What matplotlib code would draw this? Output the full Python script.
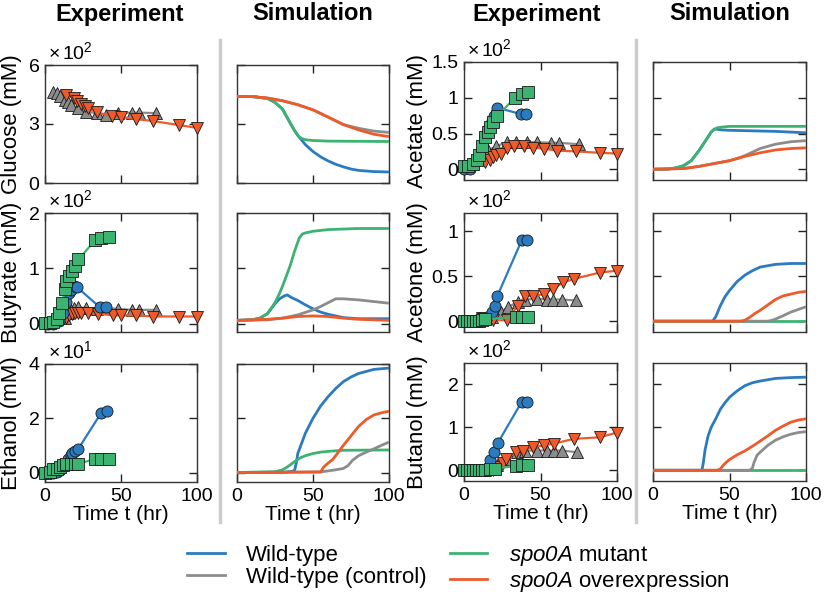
"""Experiment vs simulation panels for fermentation products."""

import matplotlib

matplotlib.use("Agg")
from matplotlib import pyplot as plt  # noqa: E402
from matplotlib.lines import Line2D  # noqa: E402

plt.rcParams["font.family"] = ["Liberation Sans", "DejaVu Sans"]
plt.rcParams["mathtext.fontset"] = "custom"
# math text is only used for the italic gene name and the multipliers
plt.rcParams["mathtext.rm"] = "Liberation Sans:italic"
plt.rcParams["mathtext.it"] = "Liberation Sans:italic"

BLUE = "#2a7bbf"
GREEN = "#3cb371"
GRAY = "#8c8c8c"
ORANGE = "#ee5a2a"

# ---- experiment data (values in units of the panel multiplier) ----
glc_gray_t = [5.5, 7.7, 9.8, 13, 15, 17, 22, 27, 34, 40, 48, 57, 62, 73]
glc_gray_y = [4.65, 4.56, 4.4, 4.22, 4.14, 3.97, 3.8, 3.63, 3.55, 3.46, 3.55, 3.58, 3.58, 3.55]
glc_orange_t = [14, 19, 21, 24, 26, 28, 34, 44, 50, 60, 71, 88, 100]
glc_orange_y = [4.5, 4.3, 4.15, 4.0, 3.9, 3.8, 3.6, 3.4, 3.35, 3.25, 3.15, 2.95, 2.8]

but_green_t = [0, 3, 5.5, 8, 9.5, 11.5, 13, 14, 16, 17.5, 20, 22, 33, 37, 42]
but_green_y = [0.01, 0.01, 0.03, 0.09, 0.19, 0.37, 0.62, 0.77, 0.86, 0.96, 1.05, 1.16, 1.51, 1.54, 1.56]
but_blue_t = [2, 5, 9, 12, 14, 16, 17, 19, 21, 36, 40]
but_blue_y = [0, 0, 0.05, 0.2, 0.4, 0.55, 0.6, 0.68, 0.66, 0.3, 0.3]
but_gray_t = [13, 15, 17, 19, 22, 27, 34, 40, 48, 57, 62, 73]
but_gray_y = [0.1, 0.2, 0.25, 0.28, 0.3, 0.28, 0.27, 0.28, 0.27, 0.25, 0.25, 0.25]
but_orange_t = [14, 16, 18, 20, 22, 24, 28, 35, 45, 50, 60, 71, 88, 100]
but_orange_y = [0.1, 0.15, 0.18, 0.2, 0.2, 0.2, 0.2, 0.18, 0.15, 0.15, 0.15, 0.13, 0.13, 0.13]

eth_blue_t = [0, 3, 5, 8, 10, 13, 15, 17, 18, 20, 22, 37, 41]
eth_blue_y = [0, 0, 0, 0.02, 0.1, 0.35, 0.5, 0.65, 0.72, 0.8, 0.88, 2.2, 2.28]
eth_green_t = [0, 3, 5.5, 8, 10, 12, 14, 17, 20, 22, 33, 37, 42]
eth_green_y = [0, 0.03, 0.13, 0.13, 0.2, 0.28, 0.3, 0.3, 0.3, 0.32, 0.5, 0.5, 0.5]

ace_blue_t = [0, 4, 9.4, 11.6, 13.8, 16, 18.1, 19.9, 21.8, 37.5, 40.8]
ace_blue_y = [0.01, 0.01, 0.17, 0.3, 0.45, 0.57, 0.68, 0.75, 0.86, 0.77, 0.77]
ace_green_t = [0, 2.8, 6.1, 8.3, 10, 11.6, 13.8, 15.5, 17, 19.2, 21.4, 33.4, 37.8, 42.1]
ace_green_y = [0.05, 0.05, 0.08, 0.13, 0.2, 0.32, 0.45, 0.52, 0.59, 0.66, 0.74, 1.0, 1.05, 1.08]
ace_gray_t = [12, 16, 21, 28, 34, 41, 48, 57, 62, 75]
ace_gray_y = [0.2, 0.27, 0.32, 0.38, 0.38, 0.38, 0.38, 0.37, 0.37, 0.35]
ace_orange_t = [14, 17, 19, 21, 24, 28, 33, 39, 45, 52, 61, 73, 89, 100]
ace_orange_y = [0.1, 0.13, 0.17, 0.2, 0.22, 0.3, 0.32, 0.32, 0.3, 0.29, 0.26, 0.25, 0.23, 0.22]

acn_blue_t = [0, 2.8, 6.1, 10.5, 14.8, 18.1, 20.3, 21.8, 37.8, 41]
acn_blue_y = [0, 0, 0, 0.03, 0.05, 0.1, 0.17, 0.28, 0.9, 0.9]
acn_green_t = [0, 2, 4, 6, 8, 10, 12, 14, 34, 38, 42]
acn_green_y = [0, 0, 0, 0, 0, 0, 0.01, 0.02, 0.05, 0.05, 0.05]
acn_gray_t = [14, 18, 24, 29, 35, 40, 48, 54, 58, 64, 73]
acn_gray_y = [0.04, 0.05, 0.1, 0.16, 0.21, 0.24, 0.25, 0.24, 0.24, 0.24, 0.23]
acn_orange_t = [12, 14, 16, 19, 28, 35, 40, 45, 52, 58, 65, 72, 89, 100]
acn_orange_y = [0.03, 0.02, 0.01, 0.01, 0.01, 0.17, 0.28, 0.28, 0.3, 0.36, 0.43, 0.47, 0.54, 0.56]

btl_blue_t = [0, 4, 10.5, 14.4, 17, 19.9, 22, 37.8, 41]
btl_blue_y = [0, 0, 0, 0.04, 0.23, 0.42, 0.63, 1.6, 1.6]
btl_green_t = [0, 2, 4, 6, 8, 10, 12, 14, 17, 20, 34, 38, 42]
btl_green_y = [0, 0, 0, 0, 0, 0, 0, 0, 0.02, 0.04, 0.1, 0.12, 0.12]
btl_gray_t = [12, 16, 21.6, 28, 34.6, 40, 48, 54, 59, 64, 74]
btl_gray_y = [0, 0.04, 0.12, 0.27, 0.42, 0.46, 0.46, 0.46, 0.46, 0.46, 0.42]
btl_orange_t = [12, 14.4, 16.6, 19, 22, 25.3, 27.5, 34, 38.6, 45, 52, 58.5, 71.6, 89, 100]
btl_orange_y = [0, 0, 0, 0, 0.08, 0.17, 0.27, 0.42, 0.46, 0.54, 0.58, 0.62, 0.73, 0.77, 0.88]

# ---- simulation curves ----
s_glc_blue_t = [0, 10, 20, 25, 30, 35, 38, 40, 45, 50, 55, 60, 65, 70, 75, 80, 90, 100]
s_glc_blue_y = [4.4, 4.4, 4.3, 4.1, 3.75, 3.05, 2.65, 2.42, 1.95, 1.6, 1.33, 1.12, 0.95, 0.82, 0.71, 0.64, 0.58, 0.56]
s_glc_green_t = [0, 10, 20, 25, 30, 35, 38, 40, 42, 45, 50, 60, 100]
s_glc_green_y = [4.4, 4.4, 4.3, 4.1, 3.75, 3.05, 2.65, 2.42, 2.28, 2.2, 2.16, 2.13, 2.11]
s_glc_gray_t = [0, 10, 20, 30, 40, 50, 60, 70, 80, 90, 100]
s_glc_gray_y = [4.4, 4.39, 4.32, 4.18, 3.98, 3.72, 3.35, 2.97, 2.78, 2.64, 2.57]
s_glc_orange_t = [0, 10, 20, 30, 40, 50, 60, 70, 80, 90, 100]
s_glc_orange_y = [4.4, 4.39, 4.32, 4.18, 3.98, 3.72, 3.35, 2.97, 2.7, 2.48, 2.36]

s_but_blue_t = [0, 10, 15, 20, 25, 28, 31, 33, 36, 40, 45, 50, 55, 60, 70, 80, 100]
s_but_blue_y = [0.06, 0.07, 0.1, 0.18, 0.36, 0.45, 0.5, 0.52, 0.47, 0.42, 0.34, 0.27, 0.21, 0.17, 0.11, 0.09, 0.09]
s_but_green_t = [0, 10, 15, 20, 25, 28, 30, 35, 38, 41, 43, 45, 50, 60, 80, 100]
s_but_green_y = [0.06, 0.07, 0.1, 0.18, 0.38, 0.55, 0.68, 1.05, 1.32, 1.55, 1.62, 1.64, 1.67, 1.7, 1.72, 1.72]
s_but_gray_t = [0, 20, 30, 40, 50, 55, 60, 65, 70, 80, 90, 100]
s_but_gray_y = [0.06, 0.07, 0.1, 0.16, 0.25, 0.31, 0.38, 0.45, 0.45, 0.43, 0.4, 0.37]
s_but_orange_t = [0, 20, 30, 40, 50, 60, 70, 80, 100]
s_but_orange_y = [0.06, 0.08, 0.1, 0.13, 0.14, 0.13, 0.1, 0.08, 0.06]

s_eth_blue_t = [0, 30, 37, 38, 39, 40, 42, 45, 50, 55, 60, 65, 70, 75, 80, 90, 100]
s_eth_blue_y = [0, 0, 0.05, 0.1, 0.35, 0.7, 1.0, 1.45, 2.0, 2.45, 2.8, 3.1, 3.35, 3.52, 3.65, 3.8, 3.85]
s_eth_green_t = [0, 25, 30, 33, 36, 39, 42, 45, 50, 55, 60, 70, 100]
s_eth_green_y = [0, 0.03, 0.1, 0.2, 0.32, 0.45, 0.55, 0.62, 0.7, 0.75, 0.78, 0.82, 0.83]
s_eth_gray_t = [0, 55, 65, 70, 73, 76, 80, 85, 90, 95, 100]
s_eth_gray_y = [0, 0.02, 0.1, 0.15, 0.25, 0.45, 0.62, 0.75, 0.87, 1.0, 1.12]
s_eth_orange_t = [0, 55, 57, 60, 63, 66, 70, 75, 80, 85, 90, 95, 100]
s_eth_orange_y = [0, 0.02, 0.2, 0.35, 0.48, 0.7, 1.0, 1.35, 1.7, 1.95, 2.12, 2.2, 2.26]

s_ace_blue_t = [0, 10, 15, 20, 25, 30, 35, 38, 40, 42, 45, 50, 60, 80, 100]
s_ace_blue_y = [0, 0.003, 0.02, 0.05, 0.12, 0.26, 0.42, 0.52, 0.56, 0.56, 0.55, 0.545, 0.54, 0.53, 0.51]
s_ace_green_t = [0, 10, 15, 20, 25, 30, 35, 38, 40, 42, 45, 50, 100]
s_ace_green_y = [0, 0.003, 0.02, 0.05, 0.12, 0.26, 0.42, 0.52, 0.56, 0.58, 0.59, 0.6, 0.6]
s_ace_gray_t = [0, 20, 30, 40, 50, 55, 60, 65, 70, 80, 90, 100]
s_ace_gray_y = [0, 0.01, 0.04, 0.08, 0.12, 0.15, 0.19, 0.24, 0.29, 0.35, 0.385, 0.4]
s_ace_orange_t = [0, 20, 30, 40, 50, 60, 70, 80, 90, 100]
s_ace_orange_y = [0, 0.01, 0.04, 0.08, 0.12, 0.18, 0.23, 0.27, 0.29, 0.3]

s_acn_blue_t = [0, 39, 41, 44, 47, 50, 55, 60, 65, 70, 80, 90, 100]
s_acn_blue_y = [0, 0, 0.05, 0.17, 0.27, 0.34, 0.44, 0.51, 0.56, 0.6, 0.63, 0.64, 0.64]
s_acn_green_t = [0, 100]
s_acn_green_y = [0, 0]
s_acn_gray_t = [0, 75, 78, 81, 85, 90, 95, 100]
s_acn_gray_y = [0, 0, 0.01, 0.03, 0.06, 0.1, 0.13, 0.16]
s_acn_orange_t = [0, 57, 60, 63, 67, 70, 75, 80, 85, 90, 95, 100]
s_acn_orange_y = [0, 0, 0.01, 0.04, 0.09, 0.12, 0.18, 0.24, 0.28, 0.3, 0.32, 0.33]

s_btl_blue_t = [0, 32, 33, 34, 36, 38, 41, 44, 47, 50, 55, 60, 65, 70, 80, 90, 100]
s_btl_blue_y = [0, 0, 0.2, 0.47, 0.8, 1.0, 1.2, 1.42, 1.57, 1.7, 1.85, 1.97, 2.04, 2.08, 2.14, 2.16, 2.17]
s_btl_green_t = [0, 100]
s_btl_green_y = [0, 0]
s_btl_gray_t = [0, 63, 65, 66, 68, 70, 75, 80, 85, 90, 95, 100]
s_btl_gray_y = [0, 0, 0.05, 0.18, 0.35, 0.42, 0.58, 0.7, 0.78, 0.84, 0.88, 0.9]
s_btl_orange_t = [0, 42, 44, 46, 48, 50, 55, 60, 65, 70, 75, 80, 85, 90, 95, 100]
s_btl_orange_y = [0, 0, 0.03, 0.12, 0.19, 0.25, 0.36, 0.45, 0.56, 0.68, 0.8, 0.93, 1.03, 1.12, 1.17, 1.2]

W, H = 826, 595


def box(left, top, right, bottom):
    return [left / W, 1 - bottom / H, (right - left) / W, (bottom - top) / H]


def style(ax, ylim, yticks, ytick_labels, show_x, show_y):
    ax.set_xlim(0, 100)
    ax.set_ylim(*ylim)
    ax.set_xticks([0, 50, 100])
    ax.set_yticks(yticks)
    ax.tick_params(direction="in", top=True, right=True, length=6, width=1,
                   labelsize=14, color="#222222", pad=4)
    ax.set_xticklabels(["0", "50", "100"] if show_x else [])
    ax.set_yticklabels(ytick_labels if show_y else [])
    for s in ax.spines.values():
        s.set_linewidth(1)
        s.set_color("#333333")
    if show_x:
        ax.set_xlabel("Time t (hr)", fontsize=15, labelpad=0)


def exp_series(ax, t, y, color, marker):
    ax.plot(t, y, color=color, lw=1.6, marker=marker, ms=8, mfc=color,
            mec="#1a1a1a", mew=0.6, clip_on=False, zorder=3)


def sim_series(ax, t, y, color):
    ax.plot(t, y, color=color, lw=2, solid_capstyle="butt", zorder=3)


fig = plt.figure(figsize=(W / 100, H / 100), dpi=100)

cols = [(45, 197), (237, 389), (464, 617), (653, 806)]
rows_left = [(65, 183), (213, 332), (364, 482)]
rows_right = [(62, 180), (213, 332), (363, 481)]

panels = [
    # (column, row, name, ylim, yticks, labels, multiplier exponent)
    (0, 0, "Glucose (mM)", (0, 6), [0, 3, 6], ["0", "3", "6"], "2"),
    (0, 1, "Butyrate (mM)", (-0.15, 2.0), [0, 1, 2], ["0", "1", "2"], "2"),
    (0, 2, "Ethanol (mM)", (-0.35, 4.0), [0, 2, 4], ["0", "2", "4"], "1"),
    (2, 0, "Acetate (mM)", (-0.15, 1.5), [0, 0.5, 1, 1.5], ["0", "0.5", "1", "1.5"], "2"),
    (2, 1, "Acetone (mM)", (-0.12, 1.2), [0, 0.5, 1], ["0", "0.5", "1"], "2"),
    (2, 2, "Butanol (mM)", (-0.25, 2.5), [0, 1, 2], ["0", "1", "2"], "2"),
]

exp_data = [
    [(glc_gray_t, glc_gray_y, GRAY, "^"), (glc_orange_t, glc_orange_y, ORANGE, "v")],
    [(but_gray_t, but_gray_y, GRAY, "^"), (but_orange_t, but_orange_y, ORANGE, "v"),
     (but_blue_t, but_blue_y, BLUE, "o"), (but_green_t, but_green_y, GREEN, "s")],
    [(eth_blue_t, eth_blue_y, BLUE, "o"), (eth_green_t, eth_green_y, GREEN, "s")],
    [(ace_gray_t, ace_gray_y, GRAY, "^"), (ace_orange_t, ace_orange_y, ORANGE, "v"),
     (ace_blue_t, ace_blue_y, BLUE, "o"), (ace_green_t, ace_green_y, GREEN, "s")],
    [(acn_gray_t, acn_gray_y, GRAY, "^"), (acn_orange_t, acn_orange_y, ORANGE, "v"),
     (acn_blue_t, acn_blue_y, BLUE, "o"), (acn_green_t, acn_green_y, GREEN, "s")],
    [(btl_gray_t, btl_gray_y, GRAY, "^"), (btl_orange_t, btl_orange_y, ORANGE, "v"),
     (btl_blue_t, btl_blue_y, BLUE, "o"), (btl_green_t, btl_green_y, GREEN, "s")],
]

sim_data = [
    [(s_glc_blue_t, s_glc_blue_y, BLUE), (s_glc_green_t, s_glc_green_y, GREEN),
     (s_glc_gray_t, s_glc_gray_y, GRAY), (s_glc_orange_t, s_glc_orange_y, ORANGE)],
    [(s_but_blue_t, s_but_blue_y, BLUE), (s_but_green_t, s_but_green_y, GREEN),
     (s_but_gray_t, s_but_gray_y, GRAY), (s_but_orange_t, s_but_orange_y, ORANGE)],
    [(s_eth_blue_t, s_eth_blue_y, BLUE), (s_eth_green_t, s_eth_green_y, GREEN),
     (s_eth_gray_t, s_eth_gray_y, GRAY), (s_eth_orange_t, s_eth_orange_y, ORANGE)],
    [(s_ace_blue_t, s_ace_blue_y, BLUE), (s_ace_green_t, s_ace_green_y, GREEN),
     (s_ace_gray_t, s_ace_gray_y, GRAY), (s_ace_orange_t, s_ace_orange_y, ORANGE)],
    [(s_acn_blue_t, s_acn_blue_y, BLUE), (s_acn_green_t, s_acn_green_y, GREEN),
     (s_acn_gray_t, s_acn_gray_y, GRAY), (s_acn_orange_t, s_acn_orange_y, ORANGE)],
    [(s_btl_blue_t, s_btl_blue_y, BLUE), (s_btl_green_t, s_btl_green_y, GREEN),
     (s_btl_gray_t, s_btl_gray_y, GRAY), (s_btl_orange_t, s_btl_orange_y, ORANGE)],
]

for i, (c, r, name, ylim, yt, ylab, mult) in enumerate(panels):
    rows = rows_left if c == 0 else rows_right
    top, bottom = rows[r]
    last = r == 2
    ax = fig.add_axes(box(cols[c][0], top, cols[c][1], bottom))
    for t, y, color, marker in exp_data[i]:
        exp_series(ax, t, y, color, marker)
    style(ax, ylim, yt, ylab, last, True)
    ax.set_ylabel(name, fontsize=16)
    ax.yaxis.set_label_coords(-0.15 if c == 0 else -0.235, 0.5)
    ax.text(0.02, 1.02, r"$\mathregular{×\,10}^{\mathregular{%s}}$" % mult,
            transform=ax.transAxes, fontsize=14, ha="left", va="bottom")

    sx = fig.add_axes(box(cols[c + 1][0], top, cols[c + 1][1], bottom))
    for t, y, color in sim_data[i]:
        sim_series(sx, t, y, color)
    style(sx, ylim, yt, ylab, last, False)

for x, title in [(120, "Experiment"), (313, "Simulation"), (537, "Experiment"), (730, "Simulation")]:
    fig.text(x / W, 1 - 14 / H, title, fontsize=17, fontweight="bold",
             ha="center", va="center")

for x in (220, 636):
    fig.add_artist(Line2D([x / W, x / W], [1 - 40 / H, 1 - 522 / H],
                          color="#cccccc", lw=2.5))

handles = [
    Line2D([], [], color=BLUE, lw=2),
    Line2D([], [], color=GRAY, lw=2),
    Line2D([], [], color=GREEN, lw=2),
    Line2D([], [], color=ORANGE, lw=2),
]
labels = ["Wild-type", "Wild-type (control)", r"$spo0A$ mutant", r"$spo0A$ overexpression"]
fig.legend(handles, labels, ncol=2, frameon=False, fontsize=16,
           loc="center", bbox_to_anchor=(458 / W, 1 - 569 / H),
           handlelength=1.7, handletextpad=0.95, columnspacing=1.05,
           labelspacing=0.05, borderpad=0)

fig.savefig("out.png", dpi=100)
